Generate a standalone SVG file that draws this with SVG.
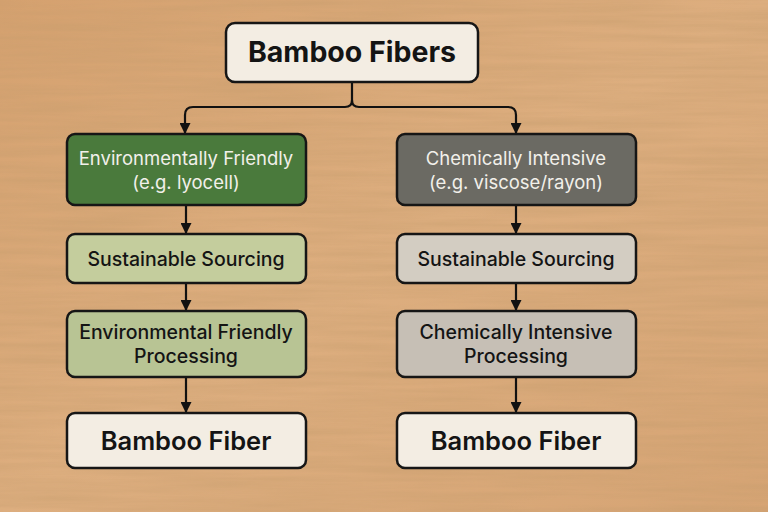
<svg xmlns="http://www.w3.org/2000/svg" width="768" height="512" viewBox="0 0 768 512">
  <defs>
    <linearGradient id="wood" x1="0" y1="0" x2="1" y2="1">
      <stop offset="0" stop-color="#d5a16f"/>
      <stop offset="0.5" stop-color="#ddae7f"/>
      <stop offset="1" stop-color="#d6a474"/>
    </linearGradient>
    <filter id="grain" x="0" y="0" width="100%" height="100%">
      <feTurbulence type="fractalNoise" baseFrequency="0.006 0.14" numOctaves="4" seed="4" result="n"/>
      <feColorMatrix in="n" type="matrix" values="0 0 0 0 0.55  0 0 0 0 0.33  0 0 0 0 0.15  0 0 0 0.7 -0.18" result="c"/>
      <feComposite in="c" in2="SourceGraphic" operator="in"/>
    </filter>
    <marker id="arrow" viewBox="0 0 10 10" refX="9" refY="5" markerWidth="11" markerHeight="11" markerUnits="userSpaceOnUse" orient="auto">
      <path d="M0,0 L10,5 L0,10 Z" fill="#111"/>
    </marker>
  </defs>
  <style>
    .box { stroke: #161616; stroke-width: 2.5; }
    .t { font-family: Inter, "Liberation Sans", sans-serif; text-anchor: middle; fill: #141414; }
    .title { font-size: 28.5px; font-weight: 700; }
    .hdr { font-size: 18.5px; font-weight: 400; fill: #f2f0ea; }
    .mid { font-size: 19.5px; font-weight: 500; }
    .end { font-size: 25.5px; font-weight: 600; }
    .conn { fill: none; stroke: #111; stroke-width: 2.2; }
  </style>

  <rect x="0" y="0" width="768" height="512" fill="url(#wood)"/>
  <rect x="0" y="0" width="768" height="512" fill="#000" filter="url(#grain)"/>

  <g id="connectors">
    <path class="conn" d="M352,82 V100 Q352,107 345,107 H193 Q185,107 185,115 V133" marker-end="url(#arrow)"/>
    <path class="conn" d="M352,100 Q352,107 359,107 H508 Q516,107 516,115 V133" marker-end="url(#arrow)"/>
    <path class="conn" d="M186,205 V233" marker-end="url(#arrow)"/>
    <path class="conn" d="M186,283 V310" marker-end="url(#arrow)"/>
    <path class="conn" d="M186,377 V412" marker-end="url(#arrow)"/>
    <path class="conn" d="M516,205 V233" marker-end="url(#arrow)"/>
    <path class="conn" d="M516,283 V310" marker-end="url(#arrow)"/>
    <path class="conn" d="M516,377 V412" marker-end="url(#arrow)"/>
  </g>

  <g id="root">
    <rect class="box" x="226" y="23" width="252" height="59" rx="9" fill="#f3ede3"/>
    <text class="t title" x="352" y="62">Bamboo Fibers</text>
  </g>

  <g id="env-friendly">
    <rect class="box" x="67" y="134" width="239" height="71" rx="8" fill="#4a7a3c"/>
    <text class="t hdr" x="186" y="165">Environmentally Friendly</text>
    <text class="t hdr" x="186" y="189">(e.g. lyocell)</text>
  </g>
  <g id="chem-intensive">
    <rect class="box" x="397" y="134" width="239" height="71" rx="8" fill="#6b6a63"/>
    <text class="t hdr" x="516" y="165">Chemically Intensive</text>
    <text class="t hdr" x="516" y="189">(e.g. viscose/rayon)</text>
  </g>

  <g id="left-sourcing">
    <rect class="box" x="67" y="234" width="239" height="49" rx="8" fill="#c4cd9d"/>
    <text class="t mid" x="186" y="266">Sustainable Sourcing</text>
  </g>
  <g id="right-sourcing">
    <rect class="box" x="397" y="234" width="239" height="49" rx="8" fill="#d3cdc2"/>
    <text class="t mid" x="516" y="266">Sustainable Sourcing</text>
  </g>

  <g id="left-processing">
    <rect class="box" x="67" y="311" width="239" height="66" rx="8" fill="#b8c494"/>
    <text class="t mid" x="186" y="339">Environmental Friendly</text>
    <text class="t mid" x="186" y="363">Processing</text>
  </g>
  <g id="right-processing">
    <rect class="box" x="397" y="311" width="239" height="66" rx="8" fill="#c6bfb5"/>
    <text class="t mid" x="516" y="339">Chemically Intensive</text>
    <text class="t mid" x="516" y="363">Processing</text>
  </g>

  <g id="left-fiber">
    <rect class="box" x="67" y="413" width="239" height="55" rx="8" fill="#f3ede3"/>
    <text class="t end" x="186" y="450">Bamboo Fiber</text>
  </g>
  <g id="right-fiber">
    <rect class="box" x="397" y="413" width="239" height="55" rx="8" fill="#f3ede3"/>
    <text class="t end" x="516" y="450">Bamboo Fiber</text>
  </g>
</svg>
